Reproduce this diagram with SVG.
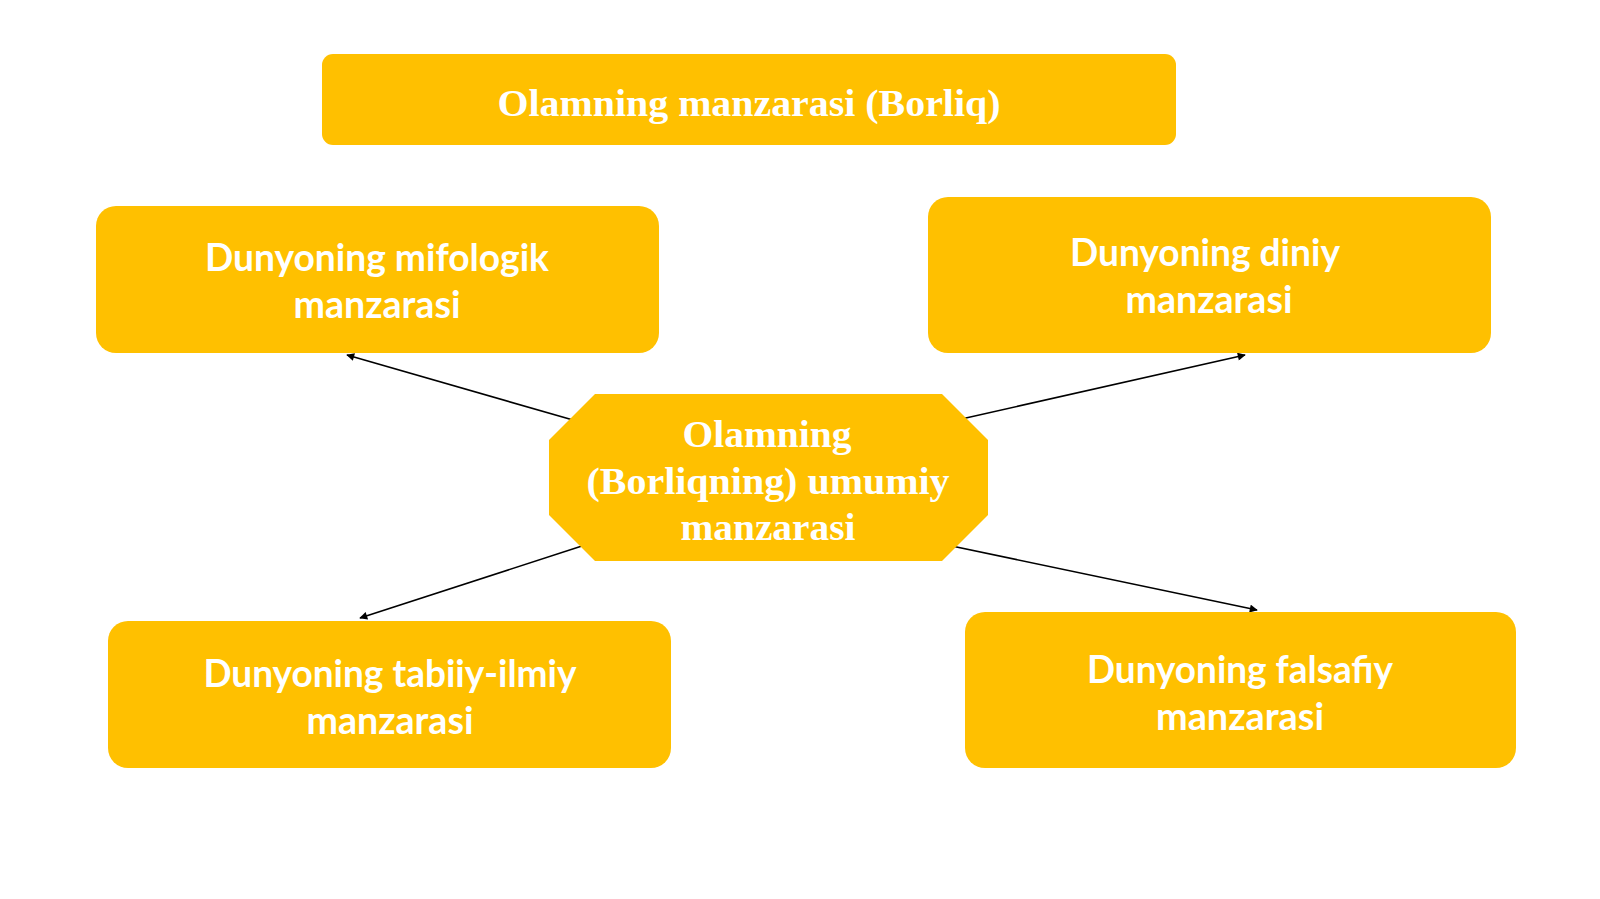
<svg xmlns="http://www.w3.org/2000/svg" width="1600" height="899" viewBox="0 0 1600 899">
<defs>
<style>
.box{fill:#FFC000;}
.sans{font-family:"Lato","Open Sans","Liberation Sans",sans-serif;font-weight:bold;font-size:38px;fill:#FFFFFF;text-anchor:middle;}
.serif{font-family:"Liberation Serif","DejaVu Serif",serif;font-weight:bold;font-size:38px;fill:#FFFFFF;text-anchor:middle;}
.conn{stroke:#000000;stroke-width:1.6;fill:none;marker-end:url(#arrow);}
</style>
<marker id="arrow" viewBox="0 0 10 10" refX="9" refY="5" markerWidth="9" markerHeight="8" markerUnits="userSpaceOnUse" orient="auto">
<path d="M0,0 L10,5 L0,10 z" fill="#000000"/>
</marker>
</defs>
<rect x="0" y="0" width="1600" height="899" fill="#FFFFFF"/>

<g id="connectors">
<line class="conn" x1="573" y1="420" x2="347" y2="355"/>
<line class="conn" x1="957" y1="420" x2="1245" y2="355"/>
<line class="conn" x1="585" y1="545" x2="360" y2="618"/>
<line class="conn" x1="947" y1="545" x2="1257" y2="610"/>
</g>

<g id="title">
<rect class="box" x="322" y="54" width="854" height="91" rx="11"/>
<text class="serif" x="749" y="116" font-size="40" textLength="503" lengthAdjust="spacingAndGlyphs">Olamning manzarasi (Borliq)</text>
</g>

<g id="mifologik">
<rect class="box" x="96" y="206" width="563" height="147" rx="20"/>
<text class="sans" x="377" y="271" textLength="344" lengthAdjust="spacingAndGlyphs">Dunyoning mifologik</text>
<text class="sans" x="377" y="318" textLength="167" lengthAdjust="spacingAndGlyphs">manzarasi</text>
</g>

<g id="diniy">
<rect class="box" x="928" y="197" width="563" height="156" rx="20"/>
<text class="sans" x="1205" y="266" textLength="270" lengthAdjust="spacingAndGlyphs">Dunyoning diniy</text>
<text class="sans" x="1209" y="313" textLength="167" lengthAdjust="spacingAndGlyphs">manzarasi</text>
</g>

<g id="tabiiy">
<rect class="box" x="108" y="621" width="563" height="147" rx="20"/>
<text class="sans" x="390" y="687" textLength="373" lengthAdjust="spacingAndGlyphs">Dunyoning tabiiy-ilmiy</text>
<text class="sans" x="390" y="734" textLength="167" lengthAdjust="spacingAndGlyphs">manzarasi</text>
</g>

<g id="falsafiy">
<rect class="box" x="965" y="612" width="551" height="156" rx="20"/>
<text class="sans" x="1240" y="683" textLength="306" lengthAdjust="spacingAndGlyphs">Dunyoning falsafiy</text>
<text class="sans" x="1240" y="730" textLength="168" lengthAdjust="spacingAndGlyphs">manzarasi</text>
</g>

<g id="umumiy">
<polygon class="box" points="595,394 942,394 988,440 988,515 942,561 595,561 549,515 549,440"/>
<text class="serif" x="767" y="447" textLength="169" lengthAdjust="spacingAndGlyphs">Olamning</text>
<text class="serif" x="768" y="494" textLength="363" lengthAdjust="spacingAndGlyphs">(Borliqning) umumiy</text>
<text class="serif" x="768" y="540" textLength="175" lengthAdjust="spacingAndGlyphs">manzarasi</text>
</g>
</svg>
